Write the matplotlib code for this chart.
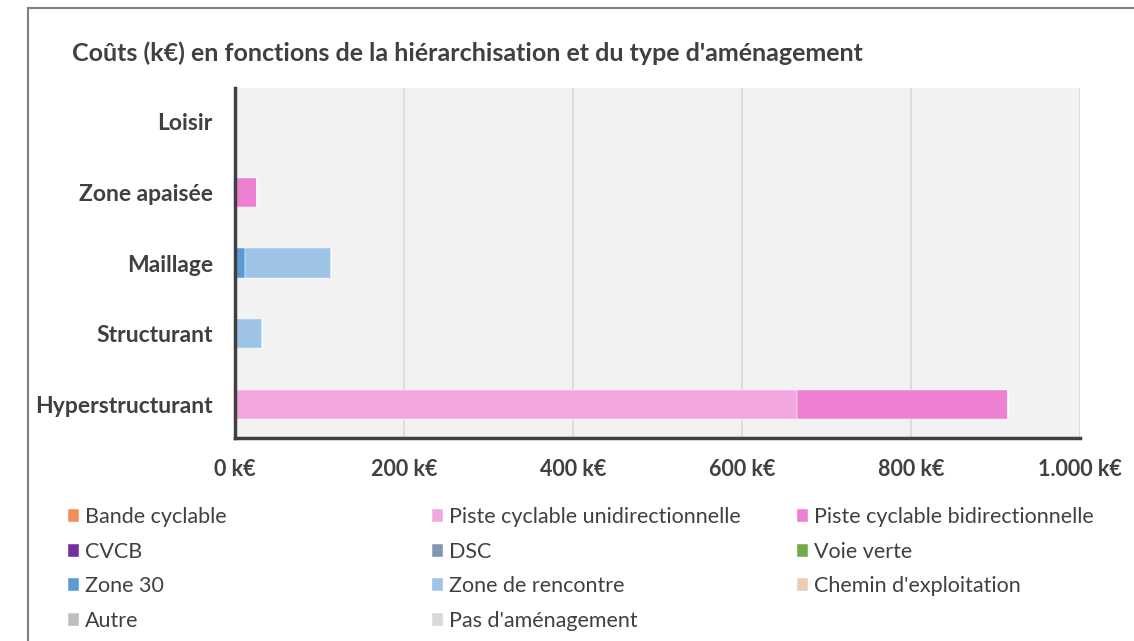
import matplotlib.pyplot as plt
from matplotlib.patches import Rectangle
from matplotlib.ticker import FuncFormatter
import numpy as np

plt.rcParams['font.family'] = ['Lato', 'DejaVu Sans']

# categories, top to bottom as shown
categories = ["Loisir", "Zone apaisée", "Maillage", "Structurant", "Hyperstructurant"]

# series values (k€), same order as categories
bande_cyclable = [0, 0, 0, 0, 0]
piste_uni = [0, 0, 0, 0, 665]
piste_bidir = [0, 26, 0, 0, 250]
cvcb = [0, 0, 0, 0, 0]
dsc = [0, 0, 0, 0, 0]
voie_verte = [0, 0, 0, 0, 0]
zone_30 = [0, 0, 12, 0, 0]
zone_rencontre = [0, 0, 102, 32, 0]
chemin_exploitation = [0, 0, 0, 0, 0]
autre = [0, 0, 0, 0, 0]
pas_amenagement = [0, 0, 0, 0, 0]

series = [
    ("Bande cyclable", bande_cyclable, "#F28E58"),
    ("Piste cyclable unidirectionnelle", piste_uni, "#F2A7DE"),
    ("Piste cyclable bidirectionnelle", piste_bidir, "#ED80D3"),
    ("CVCB", cvcb, "#7030A0"),
    ("DSC", dsc, "#8497B0"),
    ("Voie verte", voie_verte, "#70AD47"),
    ("Zone 30", zone_30, "#5B9BD5"),
    ("Zone de rencontre", zone_rencontre, "#9DC3E6"),
    ("Chemin d'exploitation", chemin_exploitation, "#E8CDB4"),
    ("Autre", autre, "#BFBFBF"),
    ("Pas d'aménagement", pas_amenagement, "#D9D9D9"),
]

x_ticks = [0, 200, 400, 600, 800, 1000]

text_col = "#404040"

fig = plt.figure(figsize=(11.34, 6.41), dpi=100)
fig.patch.set_facecolor("white")

# outer chart border (screenshot edge)
fig.patches.append(Rectangle((28 / 1134, -0.1), 1.2, 1 - 8 / 641 + 0.1,
                             transform=fig.transFigure, fill=False,
                             edgecolor="#7F7F7F", linewidth=1.5))

ax = fig.add_axes([235 / 1134, 1 - 438 / 641, (1080 - 235) / 1134, (438 - 88) / 641])
ax.set_facecolor("#F2F2F2")

y = np.arange(len(categories))[::-1]
left = np.zeros(len(categories))
handles = []
for name, vals, col in series:
    b = ax.barh(y, vals, left=left, height=0.41, color=col, label=name,
                edgecolor="white", linewidth=0.3)
    handles.append(b)
    left = left + np.array(vals)

ax.set_xlim(0, 1000)
ax.set_ylim(-0.47, 4.47)
ax.set_xticks(x_ticks)
ax.xaxis.set_major_formatter(FuncFormatter(
    lambda v, p: f"{int(v):,} k€".replace(",", ".")))
ax.set_yticks(y)
ax.set_yticklabels(categories)
ax.grid(axis="x", color="#D9D9D9", linewidth=1.2)
ax.set_axisbelow(True)
ax.tick_params(length=0, labelcolor=text_col)
ax.tick_params(axis="y", labelsize=16.5, pad=16)
ax.tick_params(axis="x", labelsize=15.5, pad=15)
for lbl in ax.get_xticklabels() + ax.get_yticklabels():
    lbl.set_fontweight("bold")
for s in ["top", "right"]:
    ax.spines[s].set_visible(False)
ax.spines["left"].set_color("#404040")
ax.spines["left"].set_linewidth(2.5)
ax.spines["bottom"].set_color("#404040")
ax.spines["bottom"].set_linewidth(2.5)

fig.text(72 / 1134, 1 - 53 / 641, "Coûts (k€) en fonctions de la hiérarchisation et du type d'aménagement",
         fontsize=18, fontweight="bold", color=text_col, va="center", ha="left")

# legend in three columns, filled row by row
col_x = [68, 432, 797]
for c in range(3):
    hs = [handles[i] for i in range(c, len(series), 3)]
    labs = [series[i][0] for i in range(c, len(series), 3)]
    leg = fig.legend(hs, labs, loc="upper left",
                     bbox_to_anchor=(col_x[c] / 1134, 1 - 507 / 641),
                     frameon=False, fontsize=15.5, handlelength=0.5,
                     handleheight=0.55, handletextpad=0.3, labelspacing=0.68,
                     borderaxespad=0, borderpad=0)
    for t in leg.get_texts():
        t.set_color(text_col)

fig.savefig("out.png", dpi=100)
